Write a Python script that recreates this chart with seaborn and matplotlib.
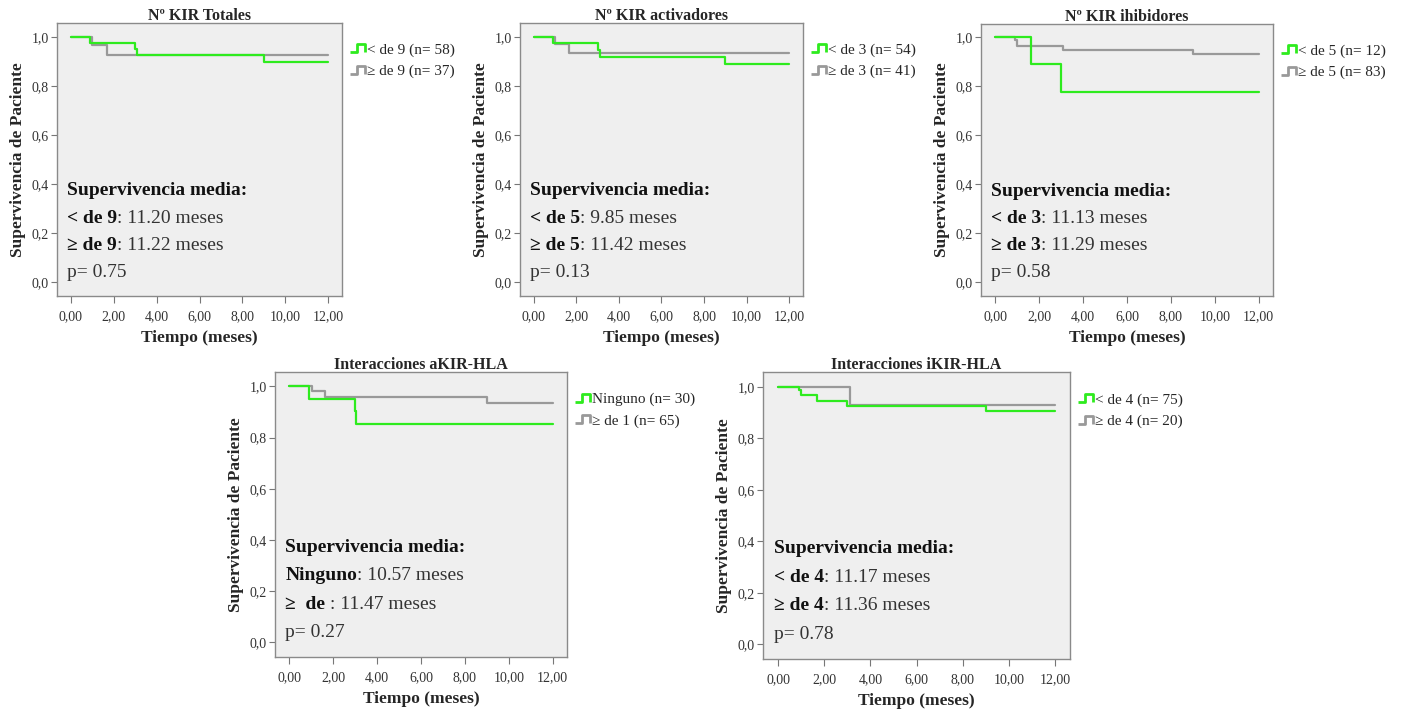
import matplotlib
matplotlib.use("Agg")
import matplotlib.pyplot as plt
import seaborn as sns
import pandas as pd
from matplotlib.lines import Line2D
from matplotlib.ticker import FuncFormatter

sns.set_style("white")
plt.rcParams['font.family'] = ['Liberation Serif', 'DejaVu Serif']

# --- datos ---
titles = ['Nº KIR Totales', 'Nº KIR activadores', 'Nº KIR ihibidores',
          'Interacciones aKIR-HLA', 'Interacciones iKIR-HLA']

legend_a = ['< de 9 (n= 58)', '< de 3 (n= 54)', '< de 5 (n= 12)', 'Ninguno (n= 30)', '< de 4 (n= 75)']
legend_b = ['≥ de 9 (n= 37)', '≥ de 3 (n= 41)', '≥ de 5 (n= 83)', '≥ de 1 (n= 65)', '≥ de 4 (n= 20)']

t_a = [[0, 0.9, 3.0, 3.1, 9.0, 12],
       [0, 0.91, 3.0, 3.1, 9.0, 12],
       [0, 1.62, 3.0, 12],
       [0, 0.9, 2.98, 3.06, 12],
       [0, 0.9, 0.98, 1.68, 3.0, 9.0, 12]]
s_a = [[1, 0.976, 0.95, 0.925, 0.898, 0.898],
       [1, 0.974, 0.946, 0.918, 0.89, 0.89],
       [1, 0.89, 0.778, 0.778],
       [1, 0.952, 0.903, 0.853, 0.853],
       [1, 0.988, 0.967, 0.945, 0.924, 0.905, 0.905]]
t_b = [[0, 1.0, 1.66, 12],
       [0, 1.0, 1.66, 12],
       [0, 0.88, 1.0, 3.08, 9.0, 12],
       [0, 1.02, 1.65, 9.0, 12],
       [0, 3.1, 12]]
s_b = [[1, 0.965, 0.927, 0.927],
       [1, 0.97, 0.933, 0.933],
       [1, 0.989, 0.966, 0.949, 0.931, 0.931],
       [1, 0.981, 0.959, 0.935, 0.935],
       [1, 0.931, 0.931]]

lbl_a = ['< de 9', '< de 5', '< de 3', 'Ninguno', '< de 4']
lbl_b = ['≥ de 9', '≥ de 5', '≥ de 3', '≥  de ', '≥ de 4']
media_a = ['11.20', '9.85', '11.13', '10.57', '11.17']
media_b = ['11.22', '11.42', '11.29', '11.47', '11.36']
pvals = ['0.75', '0.13', '0.58', '0.27', '0.78']

green = '#2EEB1E'
gray = '#999999'

# posiciones de los ejes [left, bottom, width, height]
boxes = [[0.0406, 0.585, 0.2028, 0.383],
         [0.3701, 0.585, 0.2014, 0.383],
         [0.6982, 0.585, 0.2078, 0.382],
         [0.1957, 0.0785, 0.2078, 0.400],
         [0.5431, 0.0757, 0.2185, 0.4025]]

step_icon = [(-1, -0.5), (-0.15, -0.5), (-0.15, 0.5), (0.85, 0.5), (0.85, -0.5)]

fig = plt.figure(figsize=(14.05, 7.13), dpi=100)

for i in range(5):
    ax = fig.add_axes(boxes[i])
    df = pd.concat([
        pd.DataFrame({'t': t_a[i], 's': s_a[i], 'g': 'a'}),
        pd.DataFrame({'t': t_b[i], 's': s_b[i], 'g': 'b'}),
    ])
    sns.lineplot(data=df, x='t', y='s', hue='g', palette={'a': green, 'b': gray},
                 hue_order=['b', 'a'], estimator=None, drawstyle='steps-post',
                 linewidth=1.6, legend=False, ax=ax)
    ax.set_facecolor('#efefef')
    for sp in ax.spines.values():
        sp.set_color('#8a8a8a')
        sp.set_linewidth(1.0)
    ax.set_xlim(-0.65, 12.65)
    ax.set_ylim(-0.057, 1.057)
    ax.set_xticks([0, 2, 4, 6, 8, 10, 12])
    ax.set_yticks([0, 0.2, 0.4, 0.6, 0.8, 1.0])
    ax.xaxis.set_major_formatter(FuncFormatter(lambda v, p: f'{v:.2f}'.replace('.', ',')))
    ax.yaxis.set_major_formatter(FuncFormatter(lambda v, p: f'{v:.1f}'.replace('.', ',')))
    ax.tick_params(axis='both', direction='out', length=4, width=0.8, color='#777777',
                   labelsize=10, labelcolor='#333333', bottom=True, left=True)
    ax.tick_params(axis='x', pad=5, length=5)
    ax.tick_params(axis='y', pad=2)
    ax.set_xlabel('Tiempo (meses)', fontsize=12.5, fontweight='bold', labelpad=5)
    ax.set_ylabel('Supervivencia de Paciente', fontsize=12.5, fontweight='bold', labelpad=4)
    ax.set_title(titles[i], fontsize=11.5, fontweight='bold', pad=2)

    # texto de supervivencia media
    fs = 14
    ax.text(0.035, 0.385, 'Supervivencia media:', transform=ax.transAxes,
            fontsize=fs, fontweight='bold', va='center', color='#111111')
    ta = ax.text(0.035, 0.285, lbl_a[i], transform=ax.transAxes,
                 fontsize=fs, fontweight='bold', va='center', color='#111111')
    ax.annotate(': ' + media_a[i] + ' meses', xy=(1, 0), xycoords=ta, va='bottom',
                fontsize=fs, color='#333333')
    tb = ax.text(0.035, 0.185, lbl_b[i], transform=ax.transAxes,
                 fontsize=fs, fontweight='bold', va='center', color='#111111')
    ax.annotate(': ' + media_b[i] + ' meses', xy=(1, 0), xycoords=tb, va='bottom',
                fontsize=fs, color='#333333')
    ax.text(0.035, 0.087, 'p= ' + pvals[i], transform=ax.transAxes,
            fontsize=fs, va='center', color='#333333')

    handles = [Line2D([0], [0], color=green, lw=0, marker=step_icon, ms=12,
                      mfc='none', mec=green, mew=2),
               Line2D([0], [0], color=gray, lw=0, marker=step_icon, ms=12,
                      mfc='none', mec=gray, mew=2)]
    ax.legend(handles, [legend_a[i], legend_b[i]], loc='upper left',
              bbox_to_anchor=(0.995, 0.965), frameon=False, fontsize=11,
              handlelength=0.9, handletextpad=0.15, labelspacing=0.5,
              borderaxespad=0.3)

fig.savefig('out.png', dpi=100)
